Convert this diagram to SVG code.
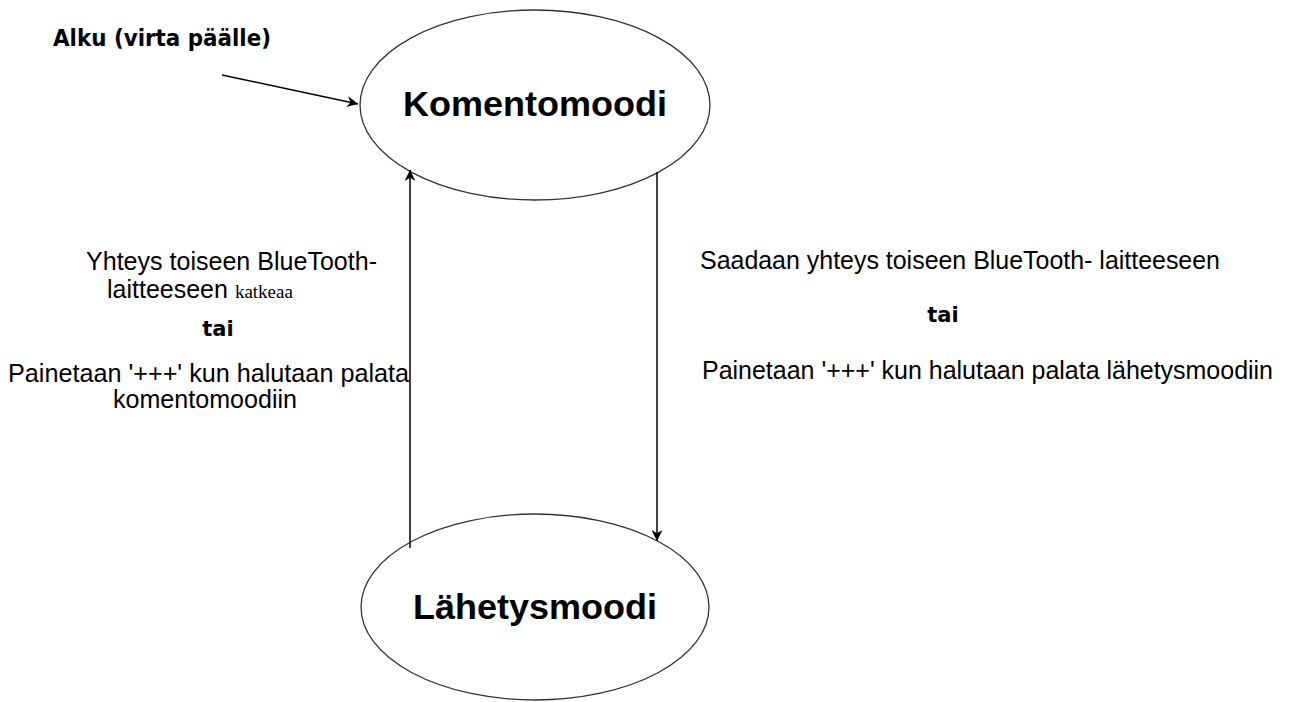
<svg xmlns="http://www.w3.org/2000/svg" width="1290" height="702" viewBox="0 0 1290 702">
<style>
.t{font-family:"Liberation Sans",Arial,sans-serif;font-size:25px;fill:#000}
.b{font-family:"DejaVu Sans",Verdana,sans-serif;font-weight:bold;font-size:21px}
.big{font-family:"Liberation Sans",Arial,sans-serif;font-size:35px;font-weight:bold;fill:#000}
.node{fill:#fff;stroke:#333;stroke-width:1.3}
.edge{fill:none;stroke:#000;stroke-width:1.5}
</style>
<defs>
<marker id="ah" viewBox="0 0 10 10" refX="10" refY="5" markerWidth="11" markerHeight="11" markerUnits="userSpaceOnUse" orient="auto">
<path d="M0,0 L10,5 L0,10 L3,5 z" fill="#000"/>
</marker>
</defs>
<rect width="1290" height="702" fill="#fff"/>
<g id="komentomoodi">
<ellipse class="node" cx="535" cy="105" rx="175" ry="95"/>
<text class="big" x="535" y="116" text-anchor="middle" textLength="264" lengthAdjust="spacingAndGlyphs">Komentomoodi</text>
</g>
<g id="lahetysmoodi">
<ellipse class="node" cx="535" cy="607" rx="174" ry="93"/>
<text class="big" x="535" y="619" text-anchor="middle" textLength="244" lengthAdjust="spacingAndGlyphs">Lähetysmoodi</text>
</g>
<g id="connectors">
<line class="edge" x1="222" y1="75" x2="358" y2="104" marker-end="url(#ah)"/>
<line class="edge" x1="410" y1="548" x2="410" y2="170" marker-end="url(#ah)"/>
<line class="edge" x1="657" y1="172" x2="657" y2="541" marker-end="url(#ah)"/>
</g>
<g id="labels">
<text class="t b" x="53" y="46" style="font-size:23px" textLength="218" lengthAdjust="spacingAndGlyphs">Alku (virta päälle)</text>
<text class="t" x="86" y="270" textLength="291" lengthAdjust="spacingAndGlyphs">Yhteys toiseen BlueTooth-</text>
<text class="t" x="107" y="298">laitteeseen <tspan style="font-family:'Liberation Serif',serif;font-size:19px">katkeaa</tspan></text>
<text class="t b" x="218" y="336" text-anchor="middle">tai</text>
<text class="t" x="8" y="382" textLength="401" lengthAdjust="spacingAndGlyphs">Painetaan '+++' kun halutaan palata</text>
<text class="t" x="113" y="408" textLength="184" lengthAdjust="spacingAndGlyphs">komentomoodiin</text>
<text class="t" x="700" y="269" textLength="520" lengthAdjust="spacingAndGlyphs">Saadaan yhteys toiseen BlueTooth- laitteeseen</text>
<text class="t b" x="943" y="322" text-anchor="middle">tai</text>
<text class="t" x="702" y="379" textLength="571" lengthAdjust="spacingAndGlyphs">Painetaan '+++' kun halutaan palata lähetysmoodiin</text>
</g>
</svg>
